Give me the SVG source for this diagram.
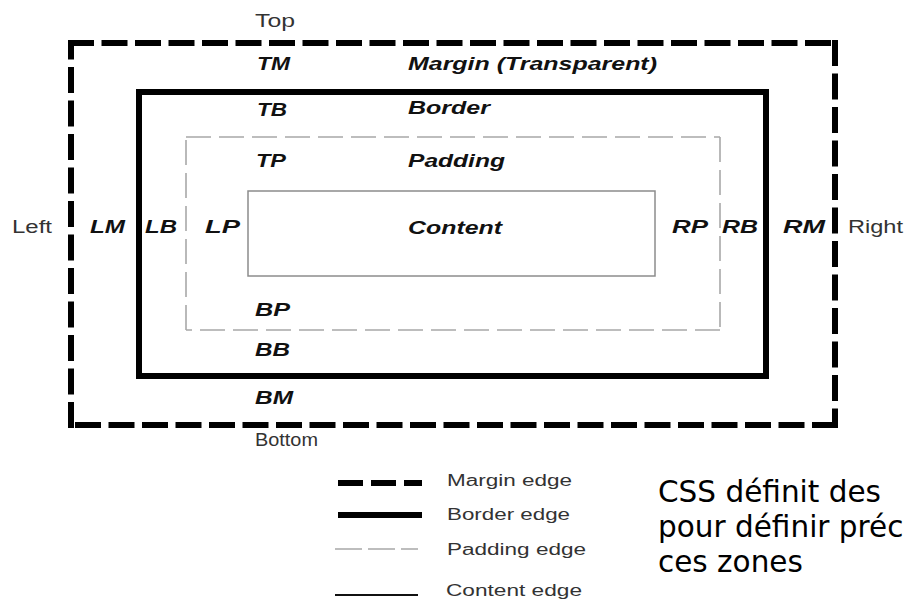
<svg xmlns="http://www.w3.org/2000/svg" width="909" height="601" viewBox="0 0 909 601">
<style>
.bg{fill:#fff}
.margin{fill:none;stroke:#000;stroke-width:6;stroke-dasharray:26 7.5}
.border{fill:none;stroke:#000;stroke-width:6}
.padding{fill:none;stroke:#a8a8a8;stroke-width:1.6;stroke-dasharray:25 8}
.content{fill:none;stroke:#8c8c8c;stroke-width:1.5}
.lbl{font-family:"Liberation Sans",Arial,sans-serif;font-size:18px;font-weight:bold;font-style:italic;fill:#111}
.side{font-family:"Liberation Sans",Arial,sans-serif;font-size:18px;fill:#333}
.leg{font-family:"Liberation Sans",Arial,sans-serif;font-size:16px;fill:#333}
.cap{font-family:"DejaVu Sans",Verdana,sans-serif;font-size:29.5px;fill:#000}
</style>
<rect class="bg" x="0" y="0" width="909" height="601"/>
<g id="margin-box">
  <path class="margin" d="M68,43H838 M835,40V428 M838,425H68 M71,428V40"/>
  <text class="lbl" x="257" y="70" textLength="33" lengthAdjust="spacingAndGlyphs">TM</text>
  <text class="lbl" x="408" y="70" textLength="249" lengthAdjust="spacingAndGlyphs">Margin (Transparent)</text>
  <text class="lbl" x="90" y="233" textLength="35" lengthAdjust="spacingAndGlyphs">LM</text>
  <text class="lbl" x="783" y="233" textLength="42" lengthAdjust="spacingAndGlyphs">RM</text>
  <text class="lbl" x="255" y="404" textLength="38" lengthAdjust="spacingAndGlyphs">BM</text>
</g>
<g id="border-box">
  <rect class="border" x="139" y="92" width="627" height="284"/>
  <text class="lbl" x="257" y="116" textLength="30" lengthAdjust="spacingAndGlyphs">TB</text>
  <text class="lbl" x="408" y="114" textLength="82" lengthAdjust="spacingAndGlyphs">Border</text>
  <text class="lbl" x="145" y="233" textLength="32" lengthAdjust="spacingAndGlyphs">LB</text>
  <text class="lbl" x="722" y="233" textLength="36" lengthAdjust="spacingAndGlyphs">RB</text>
  <text class="lbl" x="255" y="356" textLength="35" lengthAdjust="spacingAndGlyphs">BB</text>
</g>
<g id="padding-box">
  <path class="padding" d="M186,137H720 M720,137V330 M720,330H186 M186,330V137"/>
  <text class="lbl" x="256" y="167" textLength="30" lengthAdjust="spacingAndGlyphs">TP</text>
  <text class="lbl" x="408" y="167" textLength="97" lengthAdjust="spacingAndGlyphs">Padding</text>
  <text class="lbl" x="205" y="233" textLength="35" lengthAdjust="spacingAndGlyphs">LP</text>
  <text class="lbl" x="672" y="233" textLength="36" lengthAdjust="spacingAndGlyphs">RP</text>
  <text class="lbl" x="255" y="316" textLength="35" lengthAdjust="spacingAndGlyphs">BP</text>
</g>
<g id="content-box">
  <rect class="content" x="248" y="191" width="407" height="85"/>
  <text class="lbl" x="408" y="234" textLength="94" lengthAdjust="spacingAndGlyphs">Content</text>
</g>
<g id="side-labels">
  <text class="side" x="255" y="27" textLength="40" lengthAdjust="spacingAndGlyphs">Top</text>
  <text class="side" x="12" y="233" textLength="40" lengthAdjust="spacingAndGlyphs">Left</text>
  <text class="side" x="848" y="233" textLength="55" lengthAdjust="spacingAndGlyphs">Right</text>
  <text class="side" x="255" y="446" textLength="63" lengthAdjust="spacingAndGlyphs">Bottom</text>
</g>
<g id="legend">
  <line x1="338" y1="483" x2="422" y2="483" stroke="#000" stroke-width="6" stroke-dasharray="25 8"/>
  <line x1="338" y1="515" x2="422" y2="515" stroke="#000" stroke-width="6"/>
  <line x1="335" y1="549" x2="418" y2="549" stroke="#a8a8a8" stroke-width="1.6" stroke-dasharray="27 6"/>
  <line x1="335" y1="595" x2="418" y2="595" stroke="#111" stroke-width="2"/>
  <text class="leg" x="447" y="486" textLength="125" lengthAdjust="spacingAndGlyphs">Margin edge</text>
  <text class="leg" x="447" y="520" textLength="123" lengthAdjust="spacingAndGlyphs">Border edge</text>
  <text class="leg" x="447" y="555" textLength="139" lengthAdjust="spacingAndGlyphs">Padding edge</text>
  <text class="leg" x="446" y="596" textLength="136" lengthAdjust="spacingAndGlyphs">Content edge</text>
</g>
<g id="caption">
  <text class="cap" x="658" y="502">CSS définit des</text>
  <text class="cap" x="658" y="537">pour définir préc</text>
  <text class="cap" x="658" y="572">ces zones</text>
</g>
</svg>
